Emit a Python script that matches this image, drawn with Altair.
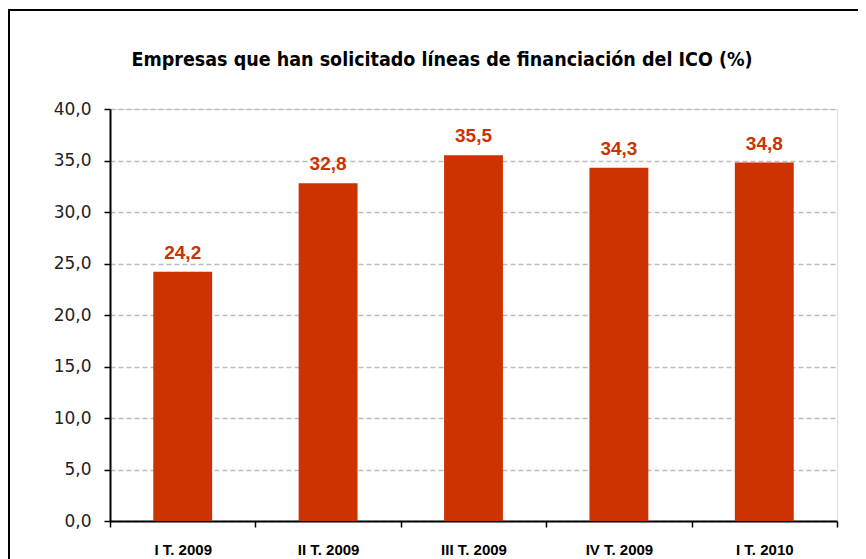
import altair as alt
import pandas as pd

quarters = ["I T. 2009", "II T. 2009", "III T. 2009", "IV T. 2009", "I T. 2010"]
values = [24.2, 32.8, 35.5, 34.3, 34.8]
y_ticks = [0, 5, 10, 15, 20, 25, 30, 35, 40]
title_text = "Empresas que han solicitado líneas de financiación del ICO (%)"

df = pd.DataFrame({"quarter": quarters, "value": values})

BAR = "#CC3300"
W, H = 727, 412

base = alt.Chart(df)

x_scale = alt.Scale(paddingInner=0, paddingOuter=0)
x_enc = alt.X(
    "quarter:N",
    sort=quarters,
    scale=x_scale,
    axis=alt.Axis(
        title=None,
        labelAngle=0,
        tickBand="extent",
        domainColor="black",
        domainWidth=2,
        tickColor="black",
        tickWidth=1.5,
        tickSize=6,
        labelFont="Liberation Sans",
        labelFontWeight="bold",
        labelFontSize=15,
        labelColor="black",
        labelPadding=15,
        labelBaseline="top",
    ),
)
y_scale = alt.Scale(domain=[0, 40], nice=False)
y_enc = alt.Y(
    "value:Q",
    scale=y_scale,
    axis=alt.Axis(
        title=None,
        values=y_ticks,
        labelExpr="replace(format(datum.value, '.1f'), '.', ',')",
        grid=True,
        gridDash=[5, 3],
        gridColor="#BDBDBD",
        gridWidth=1.5,
        domainColor="black",
        domainWidth=2,
        tickColor="black",
        tickWidth=1.5,
        tickSize=6,
        labelFont="DejaVu Sans",
        labelFontSize=17,
        labelColor="#222222",
        labelPadding=13,
    ),
)

bars = base.mark_bar(color=BAR, width=alt.RelativeBandSize(0.405)).encode(x=x_enc, y=y_enc)

labels = base.mark_text(
    color=BAR,
    font="Liberation Sans",
    fontWeight="bold",
    fontSize=19,
    baseline="alphabetic",
    dy=-13,
).transform_calculate(
    lab="replace(format(datum.value, '.1f'), '.', ',')"
).encode(
    x=alt.X("quarter:N", sort=quarters, scale=x_scale),
    y=alt.Y("value:Q", scale=y_scale),
    text="lab:N",
)

frame = alt.Chart(pd.DataFrame({"a": [0]})).mark_rect(
    fill=None, stroke="black", strokeWidth=2
).encode(
    x=alt.value(-101), x2=alt.value(800), y=alt.value(-99), y2=alt.value(500)
)

title = alt.Chart(pd.DataFrame({"t": [title_text]})).mark_text(
    font="DejaVu Sans Condensed",
    fontWeight="bold",
    fontSize=19.5,
    color="black",
    align="center",
    baseline="alphabetic",
).encode(
    x=alt.value(332), y=alt.value(-43), text="t:N"
)

chart = alt.layer(frame, title, bars, labels).properties(
    width=W,
    height=H,
    padding={"left": 102, "top": 101, "right": 21, "bottom": 46},
    autosize=alt.AutoSizeParams(type="none"),
).configure_view(stroke=None).configure(background="white")

chart.save("out.html", embed_options={"renderer": "svg", "actions": False})
